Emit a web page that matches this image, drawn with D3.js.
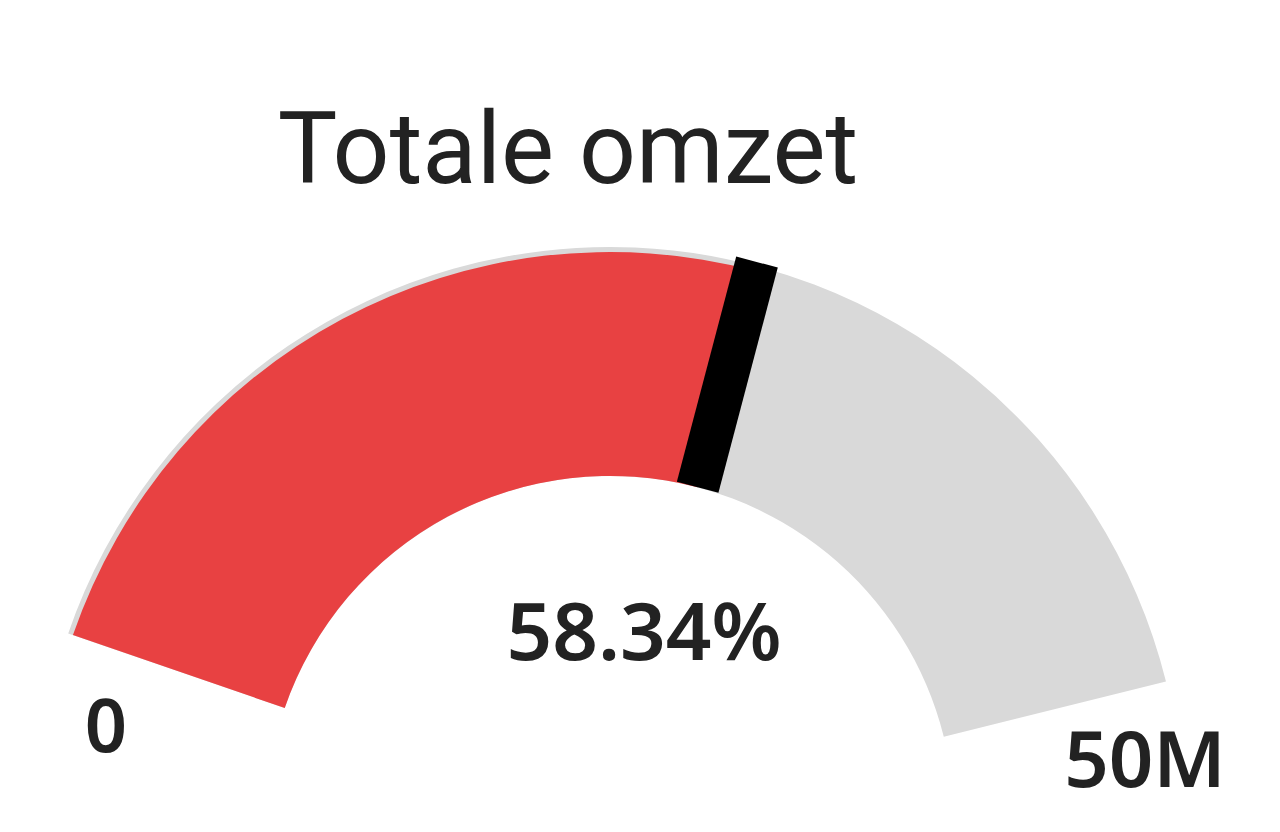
<!DOCTYPE html>
<html>
<head>
<meta charset="utf-8">
<script src="https://cdn.jsdelivr.net/npm/d3@7"></script>
<style>
  html, body { margin: 0; padding: 0; background: #ffffff; }
  #chart { width: 1280px; height: 832px; }
</style>
</head>
<body>
<div id="chart"></div>
<script>
// ---- Data ----
const titleText = "Totale omzet";
const gaugeMin = 0;
const gaugeMax = 50000000;
const gaugeValue = 29170000;           // 58.34% of 50M
const endLabels = ["0", "50M"];

// ---- Layout ----
const width = 1280, height = 832;
const cx = 610, cy = 820;
const outerR = 568, innerR = 344;
const deg = Math.PI / 180;

const svg = d3.select("#chart").append("svg")
    .attr("width", width)
    .attr("height", height);

// angle scale: value -> radians (0 = straight up)
const angle = d3.scaleLinear()
    .domain([gaugeMin, gaugeMax])
    .range([-71 * deg, 76 * deg]);

const g = svg.append("g").attr("transform", `translate(${cx},${cy})`);

// background track (slightly larger, gives the soft rim above the red)
g.append("path")
    .attr("d", d3.arc()
        .innerRadius(innerR)
        .outerRadius(outerR + 5)
        .startAngle(angle(gaugeMin))
        .endAngle(angle(gaugeMax))())
    .attr("fill", "#d9d9d9");

// value arc
g.append("path")
    .attr("d", d3.arc()
        .innerRadius(innerR)
        .outerRadius(outerR)
        .startAngle(angle(gaugeMin))
        .endAngle(angle(gaugeValue))())
    .attr("fill", "#e84142");

// needle
const needleW = 43;
g.append("rect")
    .attr("x", -needleW / 2)
    .attr("y", -(outerR + 9))
    .attr("width", needleW)
    .attr("height", outerR - innerR + 9)
    .attr("fill", "#000")
    .attr("transform", `rotate(${angle(gaugeValue) / deg})`);

// title
svg.append("text")
    .attr("x", 568)
    .attr("y", 183)
    .attr("text-anchor", "middle")
    .attr("font-family", "Roboto, sans-serif")
    .attr("font-size", 100)
    .attr("fill", "#222")
    .text(titleText);

// percentage
const pct = (gaugeValue - gaugeMin) / (gaugeMax - gaugeMin) * 100;
svg.append("text")
    .attr("x", 644)
    .attr("y", 660)
    .attr("text-anchor", "middle")
    .attr("font-family", "'Noto Sans', sans-serif")
    .attr("font-weight", 600)
    .attr("font-size", 80)
    .attr("fill", "#222")
    .text(pct.toFixed(2) + "%");

// end labels
svg.append("text")
    .attr("x", 106)
    .attr("y", 752)
    .attr("text-anchor", "middle")
    .attr("font-family", "'Noto Sans', sans-serif")
    .attr("font-weight", 600)
    .attr("font-size", 74)
    .attr("fill", "#222")
    .text(endLabels[0]);

svg.append("text")
    .attr("x", 1145)
    .attr("y", 787)
    .attr("text-anchor", "middle")
    .attr("font-family", "'Noto Sans', sans-serif")
    .attr("font-weight", 600)
    .attr("font-size", 78)
    .attr("fill", "#222")
    .text(endLabels[1]);
</script>
</body>
</html>
